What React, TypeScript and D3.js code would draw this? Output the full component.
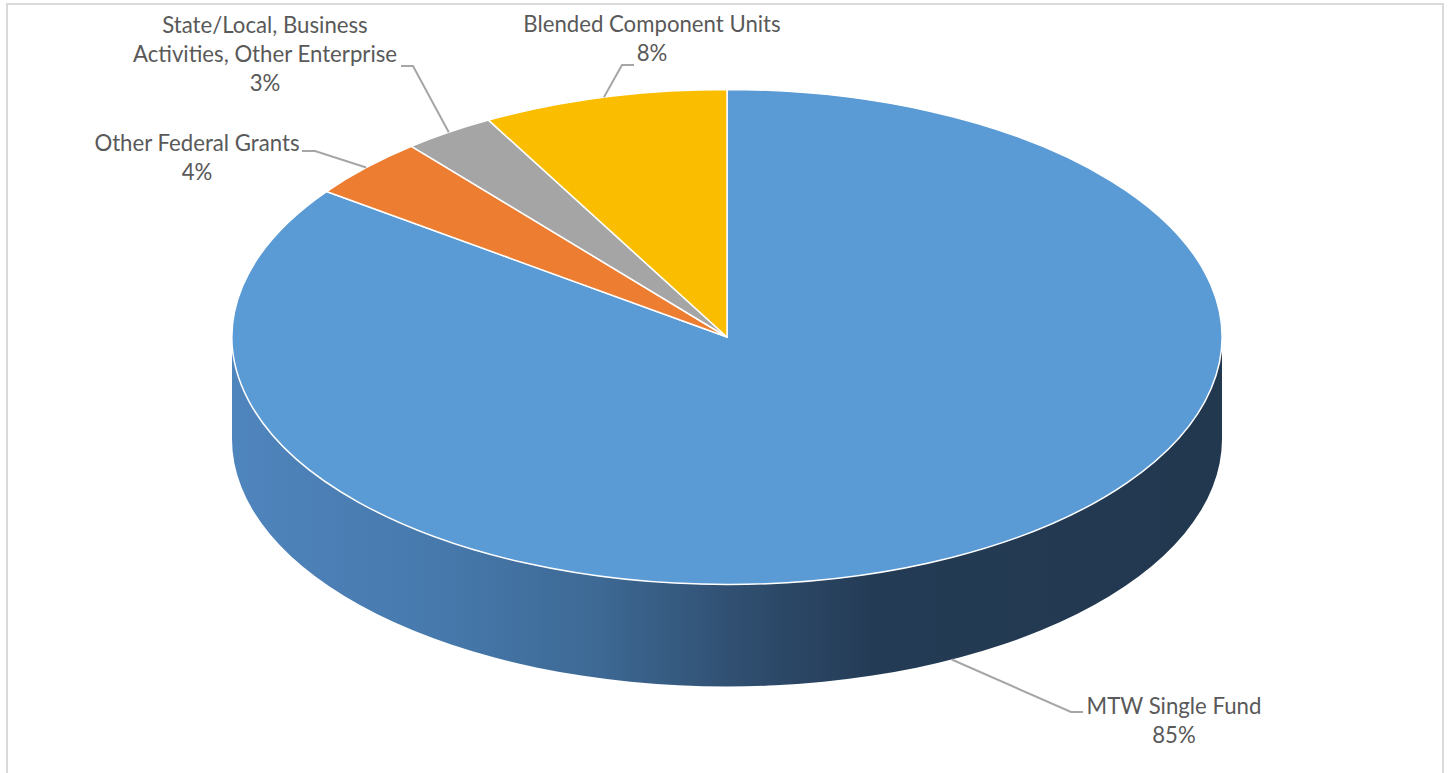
import React from "react";
import * as d3 from "d3";

const categories = [
  "MTW Single Fund",
  "Other Federal Grants",
  "State/Local, Business Activities, Other Enterprise",
  "Blended Component Units",
];
const values = [85, 4, 3, 8];
const colors = ["#5b9bd5", "#ed7d31", "#a5a5a5", "#fbbd00"];
// label text lines (name split as in the chart)
const labelNameLines = [
  ["MTW Single Fund"],
  ["Other Federal Grants"],
  ["State/Local, Business", "Activities, Other Enterprise"],
  ["Blended Component Units"],
];
// label layout: center x, first baseline y, leader elbow/end
const labelLayout = [
  { x: 1174, y: 714, elbow: [1071, 712], end: [1083, 712], bottom: true },
  { x: 197, y: 151, elbow: [315, 151], end: [302, 151], bottom: false },
  { x: 265, y: 33, elbow: [413, 66], end: [401, 66], bottom: false },
  { x: 652, y: 32, elbow: [622, 65], end: [634, 65], bottom: false },
];

const W = 1448;
const H = 773;
const cx = 727;
const cy = 337;
const rx = 495;
const ry = 247.5;
const depth = 102;

function pt(t: number, dz = 0): [number, number] {
  return [cx + rx * Math.sin(t), cy - ry * Math.cos(t) + dz];
}

export default function App() {
  const pie = d3
    .pie<number>()
    .sort(null)
    .startAngle(0)
    .endAngle(2 * Math.PI)
    .value((d) => d);
  const arcs = pie(values);
  const total = d3.sum(values);
  const fmt = d3.format(".0%");

  const slicePath = (a0: number, a1: number) => {
    const p0 = pt(a0);
    const p1 = pt(a1);
    const large = a1 - a0 > Math.PI ? 1 : 0;
    return `M${cx},${cy}L${p0[0]},${p0[1]}A${rx},${ry} 0 ${large} 1 ${p1[0]},${p1[1]}Z`;
  };

  const sidePath = (() => {
    const r = pt(Math.PI / 2);
    const l = pt((3 * Math.PI) / 2);
    return `M${r[0]},${r[1]}A${rx},${ry} 0 0 1 ${l[0]},${l[1]}L${l[0]},${l[1] + depth}A${rx},${ry} 0 0 0 ${r[0]},${r[1] + depth}Z`;
  })();

  return (
    <svg
      width={W}
      height={H}
      style={{ position: "absolute", left: 0, top: 0, background: "#fff" }}
    >
      <defs>
        <linearGradient id="sideGrad" gradientUnits="userSpaceOnUse" x1={cx - rx} x2={cx + rx} y1={0} y2={0}>
          <stop offset="0" stopColor="#4f85bd" />
          <stop offset="0.22" stopColor="#4678ab" />
          <stop offset="0.37" stopColor="#3d6994" />
          <stop offset="0.52" stopColor="#2f4d6e" />
          <stop offset="0.65" stopColor="#243b55" />
          <stop offset="1" stopColor="#22384f" />
        </linearGradient>
      </defs>
      <rect x={7} y={4} width={1436} height={780} fill="none" stroke="#d9d9d9" strokeWidth={2} />
      <path d={sidePath} fill="url(#sideGrad)" />
      {arcs.map((a, i) => (
        <path
          key={i}
          d={slicePath(a.startAngle, a.endAngle)}
          fill={colors[i]}
          stroke="#ffffff"
          strokeWidth={1.5}
          strokeLinejoin="round"
        />
      ))}
      {arcs.map((a, i) => {
        const L = labelLayout[i];
        const mid = (a.startAngle + a.endAngle) / 2;
        const anchor = pt(mid, L.bottom ? depth : 0);
        const lines = [...labelNameLines[i], fmt(values[i] / total)];
        return (
          <g key={"l" + i}>
            <polyline
              points={`${anchor[0]},${anchor[1]} ${L.elbow[0]},${L.elbow[1]} ${L.end[0]},${L.end[1]}`}
              fill="none"
              stroke="#a6a6a6"
              strokeWidth={2}
            />
            <text
              x={L.x}
              y={L.y}
              textAnchor="middle"
              fontFamily="Lato, 'Open Sans', sans-serif"
              fontSize={22.2}
              fill="#595959"
            >
              {lines.map((s, j) => (
                <tspan key={j} x={L.x} dy={j === 0 ? 0 : 29}>
                  {s}
                </tspan>
              ))}
            </text>
          </g>
        );
      })}
    </svg>
  );
}
